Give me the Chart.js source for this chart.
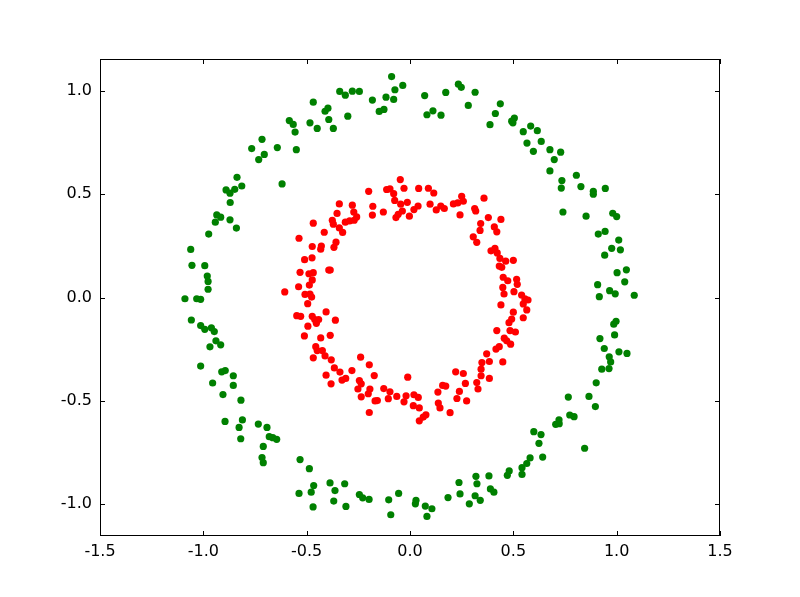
<!DOCTYPE html>
<html>
<head>
<meta charset="utf-8">
<script src="https://cdn.jsdelivr.net/npm/chart.js@4.4.1/dist/chart.umd.min.js"></script>
<style>
  html, body { margin: 0; padding: 0; background: #fff; }
  canvas { display: block; }
</style>
</head>
<body>
<canvas id="myChart" width="800" height="597"></canvas>
<script>
// outer circle (green)
var outerX = [-0.584,-0.565,-0.556,-0.716,-0.766,-0.705,-0.732,-0.642,-0.550,-0.619,-0.837,-0.814,-0.890,-0.871,-0.848,-0.870,-0.935,-0.916,-0.871,
  -0.468,-0.484,-0.449,-0.411,-0.397,-0.393,-0.371,-0.340,-0.313,-0.301,-0.279,-0.245,-0.182,-0.149,-0.126,-0.116,-0.089,-0.073,-0.079,-0.035,0.071,0.082,
  0.111,0.150,0.173,0.234,0.248,0.315,0.282,0.437,0.413,0.387,0.492,0.505,0.498,0.548,0.584,0.616,0.566,0.635,0.597,0.677,0.677,
  0.729,0.698,0.735,0.732,0.805,0.827,0.887,0.887,0.945,0.740,0.852,0.981,1.000,
  0.911,0.944,1.010,0.976,1.018,0.942,1.002,1.047,1.039,0.908,0.916,0.966,0.993,1.085,0.997,0.986,0.919,0.990,0.940,0.964,0.971,1.011,1.050,0.928,0.963,0.901,
  0.766,0.866,0.897,0.773,0.794,0.721,0.705,0.722,0.634,0.624,0.642,0.845,
  0.599,0.581,0.565,0.542,0.542,0.480,0.471,0.382,0.319,0.324,0.237,0.242,0.184,0.315,0.340,0.287,0.389,0.406,0.074,0.106,0.082,
  -0.532,-0.487,-0.466,-0.478,-0.537,-0.469,-0.387,-0.363,-0.369,-0.316,-0.310,-0.245,-0.229,-0.198,-0.103,-0.055,-0.093,0.029,0.026,
  -0.955,-0.855,-0.905,-0.818,-0.895,-0.811,-0.827,-0.819,-0.734,-0.692,-0.681,-0.664,-0.645,-0.710,-0.716,-0.710,
  -0.942,-0.840,-0.974,-1.061,-1.055,-0.993,-0.981,-0.977,-0.977,-1.089,-1.032,-1.013,-1.058,-1.013,-0.993,-0.961,-0.947,-0.939,-0.916,-0.968,-1.013,-0.911,-0.894,-0.855];
var outerY = [0.857,0.838,0.801,0.766,0.721,0.693,0.668,0.726,0.716,0.550,0.582,0.540,0.521,0.505,0.524,0.460,0.400,0.389,0.376,
  0.946,0.846,0.819,0.902,0.917,0.862,0.819,0.998,0.980,0.878,0.999,0.998,0.956,0.901,0.911,0.970,1.070,1.006,0.959,1.027,0.978,0.885,
  0.904,0.883,0.993,1.033,1.018,0.994,0.930,0.938,0.891,0.837,0.854,0.869,0.846,0.803,0.830,0.808,0.748,0.756,0.708,0.716,0.613,
  0.704,0.668,0.566,0.530,0.592,0.537,0.514,0.500,0.528,0.414,0.394,0.408,0.392,
  0.307,0.320,0.278,0.238,0.231,0.205,0.120,0.134,0.076,0.062,0.004,0.033,0.018,0.011,-0.115,-0.129,-0.199,-0.181,-0.247,-0.287,-0.312,-0.263,-0.271,-0.347,-0.344,-0.413,
  -0.482,-0.479,-0.528,-0.569,-0.577,-0.592,-0.614,-0.611,-0.664,-0.706,-0.773,-0.730,
  -0.650,-0.777,-0.804,-0.824,-0.857,-0.840,-0.861,-0.864,-0.866,-0.902,-0.896,-0.951,-0.969,-0.960,-0.982,-0.999,-0.927,-0.943,-1.010,-1.023,-1.060,
  -0.785,-0.829,-0.911,-0.943,-0.949,-1.014,-0.898,-0.935,-0.986,-0.902,-1.012,-0.954,-0.970,-0.978,-0.980,-0.949,-1.052,-0.982,-0.999,
  -0.414,-0.426,-0.470,-0.497,-0.600,-0.593,-0.629,-0.684,-0.613,-0.629,-0.674,-0.679,-0.687,-0.721,-0.775,-0.800,
  0.365,0.336,0.307,0.233,0.156,0.154,0.104,0.078,0.040,-0.006,-0.006,-0.009,-0.109,-0.136,-0.154,-0.147,-0.165,-0.210,-0.229,-0.239,-0.332,-0.360,-0.354,-0.379];

// inner circle (red)
var innerX = [-0.047,-0.029,-0.113,-0.097,-0.079,-0.200,-0.074,-0.045,-0.013,-0.037,-0.057,-0.068,-0.003,-0.180,-0.182,-0.129,
  -0.342,-0.279,-0.272,-0.353,-0.258,-0.270,-0.292,-0.313,-0.376,-0.371,-0.468,-0.342,-0.326,-0.415,-0.537,-0.358,-0.368,-0.473,-0.429,-0.432,
  -0.510,-0.474,-0.393,-0.386,-0.532,-0.489,-0.468,-0.473,-0.487,-0.539,-0.606,-0.508,-0.484,-0.476,-0.495,-0.548,-0.529,-0.473,-0.461,-0.442,-0.453,-0.406,-0.361,
  -0.494,-0.511,-0.432,-0.386,-0.456,-0.449,-0.424,-0.411,-0.468,-0.381,-0.366,-0.339,-0.406,-0.281,-0.239,-0.197,-0.173,-0.311,-0.329,-0.382,
  -0.245,-0.236,-0.252,-0.236,-0.194,-0.202,-0.169,-0.158,-0.127,-0.097,-0.105,-0.064,-0.019,-0.029,-0.197,-0.011,
  0.042,0.089,0.115,0.039,0.019,0.097,0.127,0.149,0.166,0.210,0.231,0.250,0.258,0.242,0.313,0.318,0.358,0.379,0.440,0.342,0.339,0.408,0.420,
  0.306,0.323,0.392,0.411,0.422,0.435,0.463,0.500,0.432,0.444,0.451,0.473,0.516,0.519,0.449,0.455,0.503,0.540,0.556,0.571,0.548,0.565,
  0.440,0.500,0.492,0.479,0.548,0.420,0.484,0.510,0.456,0.468,0.487,0.432,0.416,0.371,0.348,0.384,0.449,0.344,0.344,0.384,0.323,0.329,
  0.221,0.258,0.268,0.158,0.173,0.135,0.239,0.227,0.274,0.137,0.145,0.194,0.019,0.040,0.016,0.045,0.077,0.064,0.045];
var innerY = [0.571,0.529,0.523,0.526,0.503,0.514,0.470,0.452,0.461,0.419,0.403,0.387,0.394,0.442,0.399,0.414,
  0.453,0.447,0.414,0.407,0.390,0.374,0.371,0.365,0.374,0.355,0.360,0.337,0.315,0.316,0.287,0.268,0.243,0.247,0.249,0.234,
  0.183,0.192,0.133,0.133,0.122,0.115,0.120,0.085,0.060,0.052,0.027,0.015,0.017,0.002,-0.030,-0.088,-0.091,-0.091,-0.107,-0.107,-0.125,-0.070,-0.110,
  -0.139,-0.186,-0.196,-0.183,-0.238,-0.257,-0.257,-0.283,-0.292,-0.302,-0.341,-0.361,-0.376,-0.354,-0.289,-0.326,-0.378,-0.392,-0.400,-0.418,
  -0.402,-0.418,-0.443,-0.481,-0.443,-0.466,-0.501,-0.499,-0.441,-0.457,-0.490,-0.479,-0.476,-0.505,-0.557,-0.386,
  0.528,0.529,0.506,0.443,0.426,0.452,0.424,0.443,0.431,0.453,0.458,0.490,0.466,0.400,0.431,0.419,0.481,0.387,0.378,0.358,0.325,0.342,0.318,
  0.294,0.267,0.226,0.238,0.216,0.189,0.176,0.180,0.152,0.146,0.098,0.081,0.088,0.064,0.049,0.017,0.028,0.012,-0.007,-0.012,-0.031,-0.060,
  -0.036,-0.071,-0.104,-0.122,-0.098,-0.160,-0.160,-0.167,-0.197,-0.210,-0.226,-0.238,-0.250,-0.273,-0.315,-0.310,-0.312,-0.347,-0.379,-0.392,-0.412,-0.443,
  -0.360,-0.368,-0.416,-0.426,-0.429,-0.458,-0.455,-0.489,-0.501,-0.511,-0.535,-0.558,-0.471,-0.484,-0.524,-0.535,-0.568,-0.579,-0.597];

var xTicks = [-1.5, -1.0, -0.5, 0.0, 0.5, 1.0, 1.5];
var yTicks = [-1.0, -0.5, 0.0, 0.5, 1.0];

function toPoints(xs, ys) {
  return xs.map(function (x, i) { return { x: x, y: ys[i] }; });
}

// matplotlib style frame with inward ticks on all four sides
var framePlugin = {
  id: "frame",
  afterDraw: function (chart) {
    var ctx = chart.ctx;
    var a = chart.chartArea;
    var sx = chart.scales.x, sy = chart.scales.y;
    var len = 5;
    ctx.save();
    ctx.strokeStyle = "#000";
    ctx.lineWidth = 1;
    ctx.strokeRect(a.left + 0.5, a.top + 0.5, a.right - a.left - 1, a.bottom - a.top - 1);
    ctx.beginPath();
    xTicks.forEach(function (v) {
      var px = Math.round(sx.getPixelForValue(v)) + 0.5;
      ctx.moveTo(px, a.bottom); ctx.lineTo(px, a.bottom - len);
      ctx.moveTo(px, a.top); ctx.lineTo(px, a.top + len);
    });
    yTicks.forEach(function (v) {
      var py = Math.round(sy.getPixelForValue(v)) + 0.5;
      ctx.moveTo(a.left, py); ctx.lineTo(a.left + len, py);
      ctx.moveTo(a.right, py); ctx.lineTo(a.right - len, py);
    });
    ctx.stroke();
    ctx.restore();
  }
};

var tickFont = { family: "'DejaVu Sans', sans-serif", size: 16 };

new Chart(document.getElementById("myChart"), {
  type: "scatter",
  data: {
    datasets: [{
      label: "inner",
      data: toPoints(innerX, innerY),
      backgroundColor: "#ff0000",
      borderWidth: 0,
      pointRadius: 3.6
    }, {
      label: "outer",
      data: toPoints(outerX, outerY),
      backgroundColor: "#008000",
      borderWidth: 0,
      pointRadius: 3.6
    }]
  },
  options: {
    responsive: false,
    animation: false,
    layout: { padding: { top: 59, right: 80, left: 0, bottom: 0 } },
    plugins: { legend: { display: false }, tooltip: { enabled: false } },
    scales: {
      x: {
        type: "linear",
        min: -1.5,
        max: 1.5,
        afterBuildTicks: function (s) { s.ticks = xTicks.map(function (v) { return { value: v }; }); },
        afterFit: function (s) { s.height = 61; },
        grid: { display: false, drawTicks: false },
        border: { display: false },
        ticks: {
          autoSkip: false, maxRotation: 0, padding: 6, color: "#000", font: tickFont,
          callback: function (v) { return v.toFixed(1); }
        }
      },
      y: {
        type: "linear",
        min: -1.155,
        max: 1.155,
        afterBuildTicks: function (s) { s.ticks = yTicks.map(function (v) { return { value: v }; }); },
        afterFit: function (s) { s.width = 100; },
        grid: { display: false, drawTicks: false },
        border: { display: false },
        ticks: {
          autoSkip: false, padding: 8, color: "#000", font: tickFont,
          callback: function (v) { return v.toFixed(1); }
        }
      }
    }
  },
  plugins: [framePlugin]
});
</script>
</body>
</html>
